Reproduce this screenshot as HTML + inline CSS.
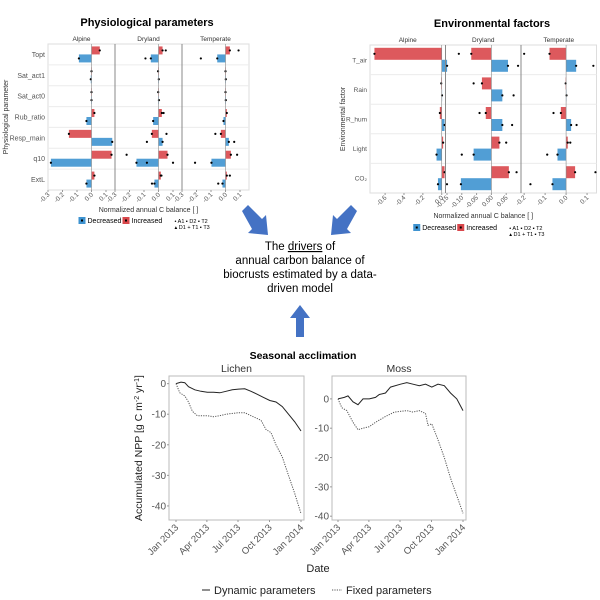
<!DOCTYPE html>
<html><head><meta charset="utf-8"><style>
html,body{margin:0;padding:0;background:#fff;}
svg{display:block;font-family:"Liberation Sans",sans-serif;}
</style></head><body>
<svg id="fig" width="600" height="600" viewBox="0 0 600 600">
<text x="147" y="26" text-anchor="middle" font-size="11" font-weight="bold">Physiological parameters</text>
<text x="492" y="27" text-anchor="middle" font-size="11" font-weight="bold">Environmental factors</text>
<text x="303" y="359" text-anchor="middle" font-size="10.5" font-weight="bold">Seasonal acclimation</text>
<g id="phys"></g>
<g id="env"></g>
<g id="seas"></g>
<g font-size="11.5" text-anchor="middle" fill="#000">
<text x="300" y="250">The <tspan text-decoration="underline">drivers</tspan> of</text>
<text x="300" y="264">annual carbon balance of</text>
<text x="300" y="278">biocrusts estimated by a data-</text>
<text x="300" y="292">driven model</text>
</g>
<g fill="#4472c4">
<polygon points="242,211 248,205 262,219 266,215 268,235 248,233 252,229"/>
<polygon points="357,211 351,205 337,219 333,215 331,235 351,233 347,229"/>
<polygon points="296,337 304,337 304,318 310,318 300,305 290,318 296,318"/>
</g>
</svg>
<script>
const NS="http://www.w3.org/2000/svg";
function mk(p,tag,at,txt){const e=document.createElementNS(NS,tag);for(const k in at)e.setAttribute(k,at[k]);if(txt!==undefined)e.textContent=txt;p.appendChild(e);return e;}
const RED="#d9474b",BLUE="#3e93d0";

// ---------- Physiological parameters data ----------
const physRows=["Topt","Sat_act1","Sat_act0","Rub_ratio","Resp_main","q10","ExtL"];
const physFacets=["Alpine","Dryland","Temperate"];
const physIncAlpine=[0.057,0,0,0.02,-0.156,0.138,0.02];
const physDecAlpine=[-0.087,-0.005,0,-0.035,0.143,-0.28,-0.035];
const physIncDryland=[0.028,-0.003,-0.002,0.023,-0.046,0.062,0.016];
const physDecDryland=[-0.053,0.002,0.003,-0.037,0.028,-0.152,-0.028];
const physIncTemperate=[0.03,0,0,0.009,-0.032,0.037,0.009];
const physDecTemperate=[-0.057,0.002,0.002,-0.014,0.023,-0.097,-0.021];
const physOutDryland=[0.05,-0.09,0.035,-0.08,0.055,0.1,-0.22,-0.08,0.02,-0.045];
const physOutTemperate=[0.09,-0.17,-0.07,0.06,0.08,-0.21,0.03,-0.05];
const physOutRowsD=[0,0,3,4,4,5,5,5,6,6];
const physOutRowsT=[0,0,4,4,5,5,6,6];
const physTicks=[-0.3,-0.2,-0.1,0.0,0.1];

// ---------- Environmental factors data ----------
const envRows=["T_air","Rain","R_hum","Light","CO\u2082"];
const envFacets=["Alpine","Dryland","Temperate"];
const envIncAlpine=[-0.713,-0.005,-0.02,0.015,0.03];
const envDecAlpine=[0.057,0.003,0.03,-0.055,-0.04];
const envIncDryland=[-0.068,-0.032,-0.019,0.027,0.059];
const envDecDryland=[0.056,0.037,0.037,-0.06,-0.103];
const envIncTemperate=[-0.079,-0.002,-0.025,0.008,0.043];
const envDecTemperate=[0.048,0.002,0.024,-0.041,-0.065];
const envOutDryland=[-0.11,0.09,-0.06,0.075,-0.04,0.07,0.05,-0.1,0.085,-0.15];
const envOutTemperate=[-0.2,0.13,-0.06,0.05,0.02,-0.09,0.14,-0.17];
const envOutRowsD=[0,0,1,1,2,2,3,3,4,4];
const envOutRowsT=[0,0,2,2,3,3,4,4];
const envTicksAlpine=[-0.6,-0.4,-0.2,0.0];
const envTicksDryland=[-0.15,-0.10,-0.05,0.00,0.05];
const envTicksTemperate=[-0.2,-0.1,0.0,0.1];
const envTickLabAlpine=["-0.6","-0.4","-0.2","0.0"];
const envTickLabDryland=["-0.15","-0.10","-0.05","0.00","0.05"];
const envTickLabTemperate=["-0.2","-0.1","0.0","0.1"];

// ---------- Seasonal data (x = fraction of year 2013) ----------
const lichenDynT=[0,.04,.07,.1,.15,.2,.25,.3,.35,.4,.45,.5,.55,.6,.65,.7,.75,.8,.85,.9,.95,1];
const lichenDynV=[0,0.5,0.3,-1,-2,-2.5,-2.8,-2.8,-3,-2.5,-2,-1.8,-1.7,-2.5,-3.5,-4.5,-5.5,-6,-7.5,-10,-12.5,-15.5];
const lichenFixT=[0,.03,.07,.1,.13,.17,.2,.25,.3,.35,.4,.5,.55,.6,.68,.72,.76,.8,.85,.9,.95,1];
const lichenFixV=[0,-3,-4,-6,-9,-10.5,-10.5,-10.5,-10.8,-10.5,-10,-9.5,-9.5,-10.5,-12,-15,-16,-20,-24,-30,-36,-42.5];
const mossDynT=[0,.05,.08,.12,.16,.2,.25,.3,.33,.38,.42,.5,.55,.6,.65,.7,.75,.8,.85,.9,.95,1];
const mossDynV=[0,0.5,1,-1,-2,0,0,0.5,1.5,2,4,5,5.5,5,4.5,5,4,5,4.5,2,0,-4];
const mossFixT=[0,.03,.07,.12,.16,.2,.25,.3,.38,.45,.55,.6,.65,.7,.72,.75,.8,.85,.9,.95,1];
const mossFixV=[0,-3,-4,-8,-10.5,-10,-9.5,-8,-6,-4.5,-4,-4.5,-4,-5,-9,-8.5,-14,-20,-27,-33,-39];
const dateTicks=[0,0.247,0.496,0.748,1];
const dateLabels=["Jan 2013","Apr 2013","Jul 2013","Oct 2013","Jan 2014"];
const yTicks=[0,-10,-20,-30,-40];

function facetChart(g,cfg){
  const {x0,y0,y1,fw,rows,rowH,barH,facets,title,yTitle,yTitleX,legY,xTitleY,fs}=cfg;
  mk(g,"rect",{x:x0,y:y0,width:fw*3,height:y1-y0,fill:"#fff",stroke:"#ddd"});
  facets.forEach((f,fi)=>{
    const fx=x0+fi*fw, sc=cfg.scales[fi];
    const X=v=>fx+(v-sc.min)/(sc.max-sc.min)*fw;
    const strip=mk(g,"text",{x:fx+fw/2,y:y0-3,"text-anchor":"middle","font-size":6.5,fill:"#333"},f);
    
    
    rows.forEach((r,ri)=>{ if(ri>0) mk(g,"line",{x1:fx,x2:fx+fw,y1:y0+ri*rowH,y2:y0+ri*rowH,stroke:"#ececec"}); });
    sc.ticks.forEach((t,ti)=>{
      const tx=X(t);
      mk(g,"line",{x1:tx,x2:tx,y1:y1,y2:y1+2,stroke:"#999"});
      const tl=mk(g,"text",{x:tx+2,y:y1+5,"text-anchor":"end","font-size":6.5,fill:"#555",transform:`rotate(-45 ${tx+2} ${y1+5})`},sc.labels?sc.labels[ti]:t.toFixed(1));
      
      
    });
    const inc=sc.inc, dec=sc.dec;
    rows.forEach((r,ri)=>{
      const cy=y0+ri*rowH+rowH/2;
      const a=X(0),b=X(inc[ri]);
      const rb=mk(g,"rect",{x:Math.min(a,b),y:cy-barH,width:Math.max(Math.abs(b-a),0.4),height:barH,fill:RED,opacity:0.9});
      
      
      mk(g,"circle",{cx:b,cy:cy-barH/2,r:1.1,fill:"#000"});
      const c=X(dec[ri]);
      const bb=mk(g,"rect",{x:Math.min(a,c),y:cy,width:Math.max(Math.abs(c-a),0.4),height:barH,fill:BLUE,opacity:0.9});
      
      
      mk(g,"circle",{cx:c,cy:cy+barH/2,r:1.1,fill:"#000"});
    });
    if(sc.out){ sc.out.forEach((v,i)=>{
      const ri=sc.outRows[i]; const cy=y0+ri*rowH+rowH/2+(i%2?barH/2:-barH/2);
      const d=mk(g,"circle",{cx:X(v),cy:cy,r:1.1,fill:"#000"});
      
      
    });}
    mk(g,"line",{x1:X(0),x2:X(0),y1:y0,y2:y1,stroke:"#888","stroke-width":0.6});
    if(fi>0) mk(g,"line",{x1:fx,x2:fx,y1:y0,y2:y1,stroke:"#888","stroke-width":1});
  });
  rows.forEach((r,ri)=>{
    const t=mk(g,"text",{x:x0-3,y:y0+ri*rowH+rowH/2+2.5,"text-anchor":"end","font-size":fs||7,fill:"#555"},r);
    
    
  });
  const yt=mk(g,"text",{x:yTitleX,y:(y0+y1)/2,"text-anchor":"middle","font-size":7,fill:"#333",transform:`rotate(-90 ${yTitleX} ${(y0+y1)/2})`},yTitle);
  
  
  const cx=x0+fw*1.5;
  const xt=mk(g,"text",{x:cx,y:xTitleY,"text-anchor":"middle","font-size":7,fill:"#333"},"Normalized annual C balance [ ]");
  
  
  const lg=mk(g,"g",{});
  
  
  const lx=cx-70;
  mk(lg,"rect",{x:lx,y:legY-6,width:7,height:7,fill:BLUE});mk(lg,"rect",{x:lx+2.5,y:legY-3.5,width:2,height:2,fill:"#000"});
  mk(lg,"text",{x:lx+9,y:legY,"font-size":7},"Decreased");
  mk(lg,"rect",{x:lx+44,y:legY-6,width:7,height:7,fill:RED});mk(lg,"rect",{x:lx+46.5,y:legY-3.5,width:2,height:2,fill:"#000"});
  mk(lg,"text",{x:lx+53,y:legY,"font-size":7},"Increased");
  mk(lg,"text",{x:lx+96,y:legY,"font-size":5.5},"\u2022 A1  \u25AA D2  \u25AA T2");
  mk(lg,"text",{x:lx+96,y:legY+6,"font-size":5.5},"\u25B4 D1  + T1  \u25AA T3");
}

facetChart(document.getElementById("phys"),{x0:48,y0:44,y1:190,fw:67,rows:physRows,rowH:146/7,barH:8,facets:physFacets,
  yTitle:"Physiological parameter",yTitleX:8,legY:223,xTitleY:212,
  scales:[{min:-0.3,max:0.162,ticks:physTicks,inc:physIncAlpine,dec:physDecAlpine},
          {min:-0.3,max:0.162,ticks:physTicks,inc:physIncDryland,dec:physDecDryland,out:physOutDryland,outRows:physOutRowsD},
          {min:-0.3,max:0.162,ticks:physTicks,inc:physIncTemperate,dec:physDecTemperate,out:physOutTemperate,outRows:physOutRowsT}]});
facetChart(document.getElementById("env"),{x0:370,y0:45,y1:193,fw:75.5,rows:envRows,rowH:148/5,barH:12,facets:envFacets,fs:6.5,
  yTitle:"Environmental factor",yTitleX:345,legY:230,xTitleY:218,
  scales:[{min:-0.76,max:0.04,ticks:envTicksAlpine,labels:envTickLabAlpine,inc:envIncAlpine,dec:envDecAlpine},
          {min:-0.155,max:0.1,ticks:envTicksDryland,labels:envTickLabDryland,inc:envIncDryland,dec:envDecDryland,out:envOutDryland,outRows:envOutRowsD},
          {min:-0.215,max:0.145,ticks:envTicksTemperate,labels:envTickLabTemperate,inc:envIncTemperate,dec:envDecTemperate,out:envOutTemperate,outRows:envOutRowsT}]});

function linePanel(g,cfg){
  const {x0,x1,y0,y1,vTop,vBot,jan13,jan14,name,series}=cfg;
  mk(g,"rect",{x:x0,y:y0,width:x1-x0,height:y1-y0,fill:"#fff",stroke:"#bbb"});
  const X=t=>jan13+t*(jan14-jan13), Y=v=>y0+(vTop-v)/(vTop-vBot)*(y1-y0);
  const st=mk(g,"text",{x:(x0+x1)/2,y:y0-4,"text-anchor":"middle","font-size":10.5,fill:"#333"},name);
  
  
  yTicks.forEach(v=>{ if(v<vBot||v>vTop)return;
    mk(g,"line",{x1:x0-2,x2:x0,y1:Y(v),y2:Y(v),stroke:"#999"});
    const t=mk(g,"text",{x:x0-3,y:Y(v)+3.5,"text-anchor":"end","font-size":10,fill:"#555"},v===0?"0":"-"+(-v));
    
    
  });
  dateTicks.forEach((t,i)=>{ const tx=X(t);
    mk(g,"line",{x1:tx,x2:tx,y1:y1,y2:y1+2,stroke:"#999"});
    const l=mk(g,"text",{x:tx+3,y:y1+8,"text-anchor":"end","font-size":9.5,fill:"#555",transform:`rotate(-45 ${tx+3} ${y1+8})`},dateLabels[i]);
    
    
  });
  series.forEach(s=>{
    const p=mk(g,"polyline",{points:s.t.map((t,i)=>X(t).toFixed(1)+","+Y(s.v[i]).toFixed(1)).join(" "),fill:"none",stroke:s.dash?"#555":"#222","stroke-width":1,"stroke-dasharray":s.dash?"1.2,1.2":"none"});
    
    
  });
}
const sg=document.getElementById("seas");
linePanel(sg,{x0:169,x1:304,y0:376,y1:520,vTop:2.5,vBot:-44.6,jan13:176,jan14:301,name:"Lichen",
  series:[{t:lichenDynT,v:lichenDynV},{t:lichenFixT,v:lichenFixV,dash:true}]});
linePanel(sg,{x0:332,x1:466,y0:376,y1:520,vTop:7.8,vBot:-41.3,jan13:338,jan14:463,name:"Moss",
  series:[{t:mossDynT,v:mossDynV},{t:mossFixT,v:mossFixV,dash:true}]});
const yl=mk(sg,"text",{x:142,y:448,"text-anchor":"middle","font-size":10.5,fill:"#222",transform:"rotate(-90 142 448)"});


yl.innerHTML='Accumulated NPP [g C m<tspan baseline-shift="super" font-size="7">-2</tspan> yr<tspan baseline-shift="super" font-size="7">-1</tspan>]';
const dl=mk(sg,"text",{x:318,y:572,"text-anchor":"middle","font-size":11,fill:"#222"},"Date");


const sl=mk(sg,"g",{});


mk(sl,"line",{x1:202,x2:210,y1:590,y2:590,stroke:"#222"});
mk(sl,"text",{x:214,y:594,"font-size":11,fill:"#222"},"Dynamic parameters");
mk(sl,"line",{x1:332,x2:342,y1:590,y2:590,stroke:"#555","stroke-dasharray":"1.2,1.2"});
mk(sl,"text",{x:346,y:594,"font-size":11,fill:"#222"},"Fixed parameters");
</script>
</body></html>
